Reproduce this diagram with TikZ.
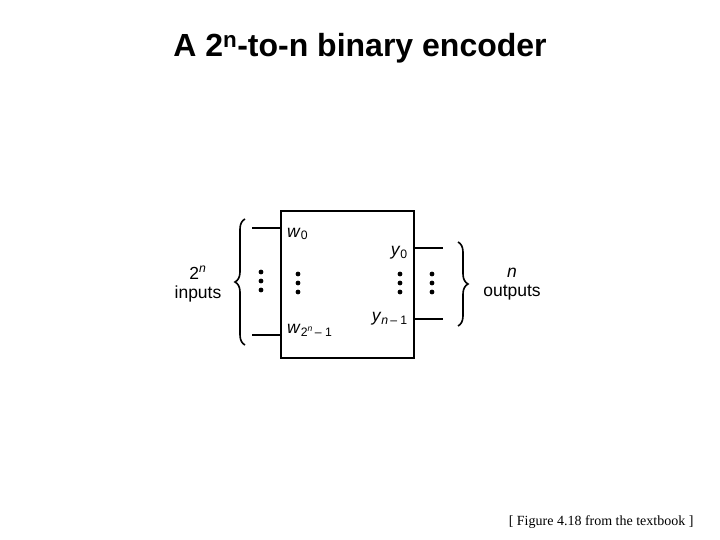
\documentclass[tikz,border=0pt]{standalone}
\usepackage{fontspec}
\setmainfont{Liberation Sans}
\newfontfamily\serifnote{Liberation Serif}
\usetikzlibrary{positioning,decorations.pathreplacing}

\newcommand{\vdotsbig}[1]{%
  \foreach \k in {0,1,2} {\fill (#1) ++(0,\k*9-9) circle (2.4);}}

\begin{document}
\begin{tikzpicture}[
    x=1pt, y=-1pt,
    wire/.style={line width=1.8pt},
    encbox/.style={draw, line width=2.4pt, minimum width=133pt, minimum height=147pt, inner sep=0pt},
    lbl/.style={font=\fontsize{17.5}{19}\selectfont, inner sep=1pt},
    brace/.style={decorate, decoration={brace, amplitude=10pt}, line width=1.6pt}
  ]
    \useasboundingbox (0,0) rectangle (720,540);
    \node[font=\fontsize{32}{36}\selectfont\bfseries] (title) at (360,48)
      {A 2\textsuperscript{n}-to-n binary encoder};

    \node[encbox, anchor=north west] (encoder) at (280,210) {};

    % input side
    \coordinate (in0) at (252,228);
    \coordinate (inN) at (252,335);
    \draw[wire] (in0) -- (in0 -| encoder.west);
    \draw[wire] (inN) -- (inN -| encoder.west);
    \node[lbl, anchor=west] (w0) at (286,234) {\textit{w}\textsubscript{0}};
    \node[lbl, anchor=west] (wN) at (286,330)
      {\textit{w}\textsubscript{2\textsuperscript{\textit{n}}\,– 1}};
    \coordinate (indots) at (261,281);
    \coordinate (wdots) at (298,283);
    \vdotsbig{indots}
    \vdotsbig{wdots}

    % output side
    \coordinate (out0) at (443,248);
    \coordinate (outN) at (443,319);
    \draw[wire] (encoder.east |- out0) -- (out0);
    \draw[wire] (encoder.east |- outN) -- (outN);
    \node[lbl, anchor=east] (y0) at (409,253) {\textit{y}\textsubscript{0}};
    \node[lbl, anchor=east] (yN) at (409,319)
      {\textit{y}\textsubscript{\textit{n}\,– 1}};
    \coordinate (ydots) at (400,283);
    \coordinate (outdots) at (432,283);
    \vdotsbig{ydots}
    \vdotsbig{outdots}

    % braces
    \coordinate (lbBot) at (245,345);
    \coordinate (lbTop) at (245,219);
    \coordinate (rbTop) at (458,242);
    \coordinate (rbBot) at (458,326);
    \draw[brace] (lbBot) -- (lbTop);
    \draw[brace] (rbTop) -- (rbBot);
    \node[lbl, align=center] (inputs) at (198,284)
      {2\textsuperscript{\textit{n}}\\inputs};
    \node[lbl, align=center] (outputs) at (512,284)
      {\textit{n}\\outputs};

    \node[font=\serifnote\fontsize{14}{16}\selectfont, anchor=east] (note) at (697,522)
      {[ Figure 4.18 from the textbook ]};
  \end{tikzpicture}
\end{document}
